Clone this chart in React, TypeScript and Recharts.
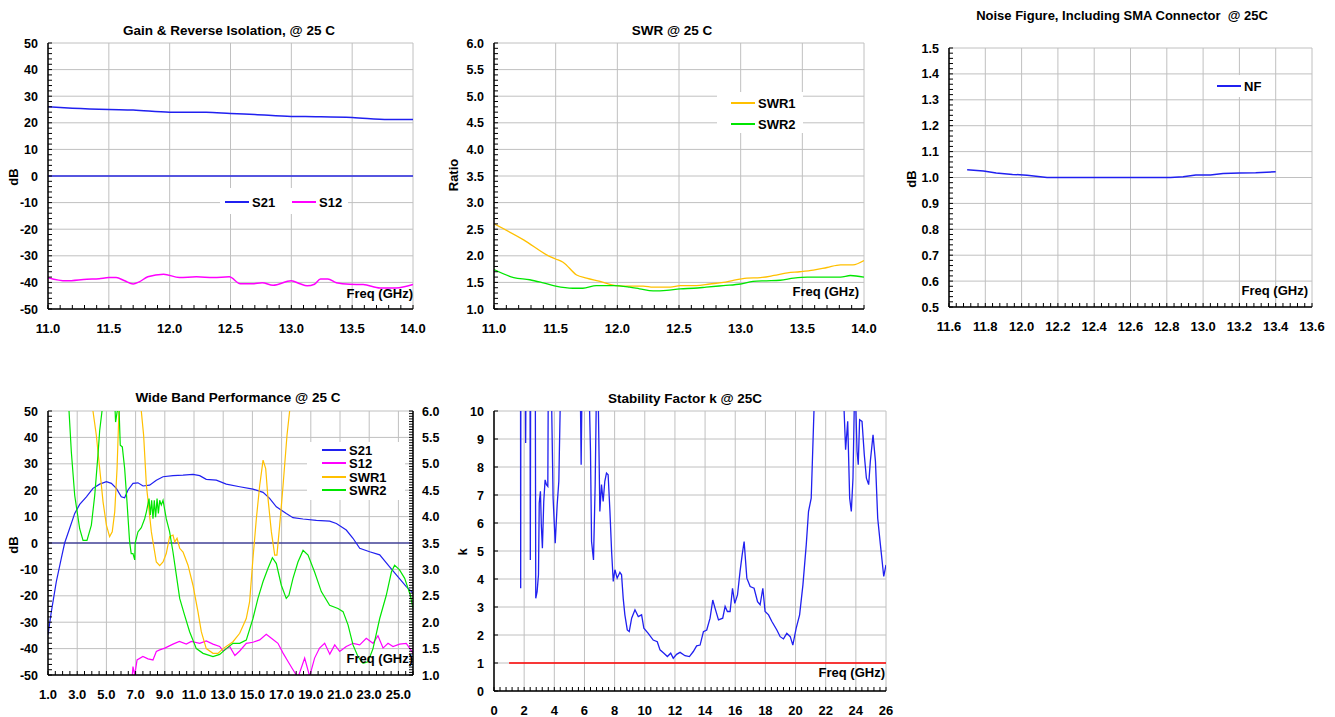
import React from 'react';
import { LineChart, Line, XAxis, YAxis, CartesianGrid, ReferenceLine } from 'recharts';

const FONT = 'Arial, "Liberation Sans", Helvetica, sans-serif';
type Pt = [number, number];

// ---- Gain & Reverse Isolation ----
const GAIN_X_LABELS = [11.0, 11.5, 12.0, 12.5, 13.0, 13.5, 14.0];
const GAIN_Y_LABELS = [-50, -40, -30, -20, -10, 0, 10, 20, 30, 40, 50];
const GAIN_S21: Pt[] = [
  [11.0, 26.0], [11.2, 25.5], [11.5, 25.0], [11.7, 24.8], [12.0, 24.0], [12.3, 24.0],
  [12.5, 23.5], [12.7, 23.1], [13.0, 22.4], [13.2, 22.3], [13.5, 22.0], [13.8, 21.2], [14.0, 21.2],
];
const GAIN_S12: Pt[] = [
  [11.0, -38.2], [11.15, -39.4], [11.32, -38.8], [11.42, -38.6], [11.5, -38.2], [11.56, -38.2],
  [11.63, -39.4], [11.7, -40.6], [11.75, -39.8], [11.82, -37.9], [11.95, -36.9], [12.08, -38.2],
  [12.22, -37.9], [12.36, -38.2], [12.49, -37.9], [12.58, -40.5], [12.68, -40.5], [12.76, -40.1],
  [12.85, -41.1], [13.0, -39.4], [13.07, -40.5], [13.13, -41.3], [13.19, -40.7], [13.24, -38.7],
  [13.3, -38.7], [13.37, -40.1], [13.48, -40.7], [13.59, -40.8], [13.73, -42.1], [13.86, -42.1],
  [14.0, -40.8],
];

// ---- SWR ----
const SWR_Y_LABELS = [1.0, 1.5, 2.0, 2.5, 3.0, 3.5, 4.0, 4.5, 5.0, 5.5, 6.0];
const SWR_1: Pt[] = [
  [11.0, 2.6], [11.24, 2.3], [11.45, 1.99], [11.5, 1.94], [11.56, 1.88], [11.67, 1.64],
  [11.75, 1.58], [11.86, 1.52], [11.99, 1.44], [12.1, 1.43], [12.21, 1.43], [12.29, 1.41],
  [12.43, 1.41], [12.51, 1.44], [12.64, 1.44], [12.75, 1.47], [12.86, 1.5], [12.94, 1.54],
  [13.05, 1.58], [13.16, 1.59], [13.27, 1.63], [13.38, 1.68], [13.48, 1.7], [13.59, 1.73],
  [13.7, 1.78], [13.81, 1.83], [13.91, 1.83], [14.0, 1.91],
];
const SWR_2: Pt[] = [
  [11.0, 1.74], [11.16, 1.59], [11.29, 1.55], [11.4, 1.49], [11.5, 1.43], [11.64, 1.39],
  [11.72, 1.39], [11.83, 1.44], [11.97, 1.44], [12.1, 1.41], [12.18, 1.38], [12.29, 1.34],
  [12.4, 1.35], [12.51, 1.38], [12.62, 1.39], [12.72, 1.41], [12.86, 1.44], [13.0, 1.47],
  [13.1, 1.52], [13.21, 1.53], [13.32, 1.54], [13.43, 1.58], [13.54, 1.6], [13.67, 1.6],
  [13.81, 1.6], [13.89, 1.63], [14.0, 1.6],
];

// ---- Noise figure ----
const NF_X_LABELS = [11.6, 11.8, 12.0, 12.2, 12.4, 12.6, 12.8, 13.0, 13.2, 13.4, 13.6];
const NF_Y_LABELS = [0.5, 0.6, 0.7, 0.8, 0.9, 1.0, 1.1, 1.2, 1.3, 1.4, 1.5];
const NF: Pt[] = [
  [11.7, 1.03], [11.79, 1.025], [11.86, 1.017], [11.95, 1.012], [12.03, 1.009], [12.14, 1.0],
  [12.3, 1.0], [12.5, 1.0], [12.7, 1.0], [12.82, 1.0], [12.89, 1.003], [12.96, 1.01],
  [13.04, 1.01], [13.11, 1.015], [13.2, 1.017], [13.29, 1.018], [13.4, 1.022],
];

// ---- Wide band ----
const WB_X_LABELS = [1, 3, 5, 7, 9, 11, 13, 15, 17, 19, 21, 23, 25];
const WB_DB_LABELS = GAIN_Y_LABELS;
const WB_R_LABELS = SWR_Y_LABELS;
const WB_S21: Pt[] = [
  [1.0, -34.8], [1.23, -26], [1.57, -14.6], [1.91, -5.8], [2.14, 0], [2.48, 5.5], [2.83, 11.2],
  [3.17, 14.6], [3.63, 17.5], [4.08, 20.7], [4.54, 22.3], [5.0, 23.2], [5.34, 22.6], [5.68, 20.7],
  [6.02, 17.5], [6.25, 17.1], [6.48, 20.1], [6.82, 22.6], [7.16, 22.8], [7.51, 21.6], [7.96, 21.9],
  [8.42, 23.8], [8.88, 25.1], [9.56, 25.5], [10.25, 25.7], [10.93, 26], [11.39, 25.5], [11.84, 24.1],
  [12.53, 23.8], [13.21, 22.3], [14.13, 21.3], [15.04, 20.4], [15.73, 19.2], [16.18, 16.9],
  [16.64, 13.7], [17.32, 11.2], [17.78, 9.6], [18.47, 9.1], [19.38, 8.6], [20.29, 8.3], [20.75, 7.4],
  [21.43, 4.9], [21.89, 1.8], [22.35, -2], [23.03, -3.3], [23.72, -4.5], [24.4, -9], [24.86, -12.1],
  [25.54, -16.5], [26.0, -19],
];
const WB_S12: Pt[] = [
  [6.75, -52], [6.82, -46.8], [6.94, -50], [7.1, -44.3], [7.5, -43], [7.85, -43.9], [8.19, -44.3],
  [8.42, -41.1], [8.65, -40.5], [9.0, -39.8], [9.56, -38.3], [10.0, -37.3], [10.47, -38.3],
  [10.82, -37.3], [11.39, -38], [11.84, -37.1], [12.3, -38.3], [12.76, -39.2], [13.0, -40.9],
  [13.44, -39.2], [13.8, -42.6], [14.13, -40.9], [14.58, -38], [15.04, -37.6], [15.5, -36.7],
  [15.95, -34.6], [16.3, -36.1], [16.75, -38], [17.1, -41.7], [17.44, -44.9], [17.78, -48],
  [18.12, -51], [18.58, -43.6], [18.92, -50.5], [19.26, -43.6], [19.6, -39.8], [19.95, -38],
  [20.3, -42.1], [20.64, -38.6], [20.98, -41.1], [21.43, -39.2], [21.89, -38], [22.35, -38.6],
  [22.8, -36.1], [23.26, -38], [23.6, -35.1], [23.95, -39.8], [24.29, -38], [24.63, -39.2],
  [25.08, -38.3], [25.54, -38], [26.0, -41.7],
];
const WB_SWR1: Pt[] = [
  [3.95, 6.6], [4.08, 6.0], [4.31, 5.54], [4.54, 4.91], [4.77, 4.28], [5.0, 3.84], [5.22, 3.62],
  [5.4, 3.71], [5.57, 4.09], [5.73, 4.91], [5.86, 6.0], [5.95, 6.6], [7.3, 6.6], [7.39, 6.0],
  [7.55, 5.54], [7.74, 4.59], [8.08, 3.71], [8.42, 3.14], [8.65, 3.07], [8.88, 3.14], [9.1, 3.3],
  [9.33, 3.62], [9.56, 3.65], [9.68, 3.52], [9.84, 3.59], [10.02, 3.4], [10.25, 3.33], [10.59, 3.08],
  [10.93, 2.7], [11.27, 2.2], [11.5, 1.82], [11.84, 1.5], [12.3, 1.41], [12.64, 1.41], [12.99, 1.5],
  [13.67, 1.63], [14.13, 1.79], [14.58, 2.07], [14.81, 2.39], [15.04, 3.21], [15.27, 3.96],
  [15.5, 4.59], [15.73, 5.07], [15.91, 4.91], [16.07, 4.34], [16.3, 3.71], [16.53, 3.27],
  [16.68, 3.27], [16.87, 3.84], [17.1, 4.59], [17.37, 5.54], [17.55, 6.0], [17.7, 6.6],
];
const WB_SWR2: Pt[] = [
  [2.35, 6.6], [2.44, 6.0], [2.6, 5.22], [2.83, 4.4], [3.17, 3.77], [3.4, 3.55], [3.67, 3.55],
  [3.97, 3.84], [4.2, 4.4], [4.42, 5.16], [4.54, 5.63], [4.7, 6.0], [4.8, 6.6], [5.55, 6.3],
  [5.63, 5.79], [5.73, 5.98], [5.86, 6.1], [5.95, 5.35], [6.09, 5.32], [6.25, 4.91], [6.41, 4.28],
  [6.59, 3.52], [6.7, 3.3], [6.82, 3.3], [6.94, 3.18], [6.97, 3.5], [7.16, 3.71], [7.39, 3.79],
  [7.62, 3.96], [7.74, 4.09], [7.92, 4.34], [8.01, 4.03], [8.1, 4.31], [8.19, 3.96], [8.28, 4.31],
  [8.37, 3.99], [8.47, 4.34], [8.56, 4.06], [8.65, 4.31], [8.76, 4.22], [8.88, 4.31], [9.1, 3.96],
  [9.33, 3.71], [9.56, 3.33], [9.79, 2.89], [10.02, 2.45], [10.36, 2.13], [10.7, 1.82],
  [11.16, 1.5], [11.62, 1.41], [12.3, 1.35], [12.76, 1.39], [13.21, 1.5], [13.67, 1.6],
  [14.13, 1.6], [14.58, 1.66], [15.04, 2.07], [15.38, 2.45], [15.73, 2.77], [16.07, 3.02],
  [16.37, 3.22], [16.64, 3.11], [16.98, 2.7], [17.32, 2.45], [17.5, 2.51], [17.78, 2.83],
  [18.12, 3.14], [18.47, 3.36], [18.81, 3.27], [19.26, 2.95], [19.72, 2.58], [20.29, 2.32],
  [20.86, 2.26], [21.21, 2.2], [21.55, 1.95], [21.89, 1.57], [22.23, 1.35], [22.58, 1.22],
  [22.92, 1.25], [23.26, 1.5], [23.72, 2.07], [24.17, 2.51], [24.52, 2.95], [24.74, 3.08],
  [25.08, 2.99], [25.43, 2.83], [25.66, 2.64], [25.82, 2.51], [26.0, 2.26],
];

// ---- Stability factor ----
const K_X_LABELS = [0, 2, 4, 6, 8, 10, 12, 14, 16, 18, 20, 22, 24, 26];
const K_Y_LABELS = [0, 1, 2, 3, 4, 5, 6, 7, 8, 9, 10];
const K_LIMIT: Pt[] = [[1, 1], [26, 1]];
const K: Pt[] = [
  [1.76, 11], [1.77, 3.67], [1.78, 11], [2.08, 11], [2.1, 8.86], [2.12, 11], [2.39, 11],
  [2.41, 4.68], [2.43, 11], [2.74, 11], [2.77, 3.31], [2.86, 3.55], [2.95, 4.15], [3.0, 6.71],
  [3.08, 7.13], [3.14, 5.9], [3.21, 5.1], [3.3, 6.77], [3.39, 7.54], [3.48, 7.37], [3.57, 7.31],
  [3.6, 11], [3.8, 11], [3.92, 6.89], [4.06, 5.28], [4.19, 6.65], [4.3, 7.49], [4.42, 11],
  [5.72, 11], [5.78, 8.08], [5.84, 11], [6.3, 11], [6.4, 8.56], [6.47, 5.34], [6.6, 4.68],
  [6.71, 7.37], [6.8, 11], [6.9, 11], [7.02, 6.41], [7.13, 7.37], [7.24, 6.77], [7.35, 7.49],
  [7.46, 7.78], [7.57, 7.72], [7.69, 6.41], [7.8, 4.98], [7.91, 3.91], [8.02, 4.33], [8.17, 4.03],
  [8.35, 4.24], [8.46, 4.15], [8.57, 3.31], [8.68, 2.72], [8.84, 2.18], [8.97, 2.12], [9.13, 2.6],
  [9.35, 2.9], [9.57, 2.66], [9.79, 2.72], [9.94, 2.24], [10.23, 2.06], [10.56, 1.82],
  [10.83, 1.76], [11.01, 1.47], [11.27, 1.35], [11.5, 1.23], [11.72, 1.35], [11.89, 1.17],
  [12.11, 1.31], [12.34, 1.38], [12.67, 1.26], [12.96, 1.23], [13.22, 1.41], [13.44, 1.61],
  [13.67, 1.64], [13.89, 2.12], [14.11, 2.18], [14.33, 2.6], [14.51, 3.25], [14.66, 2.96],
  [14.89, 2.54], [15.17, 2.6], [15.33, 3.02], [15.48, 2.84], [15.66, 2.84], [15.82, 3.67],
  [15.97, 3.13], [16.15, 3.43], [16.32, 4.27], [16.46, 4.86], [16.59, 5.34], [16.77, 4.03],
  [16.99, 3.73], [17.25, 3.67], [17.48, 3.19], [17.65, 3.08], [17.83, 3.67], [17.98, 2.84],
  [18.21, 2.72], [18.43, 2.48], [18.76, 2.18], [18.98, 1.94], [19.2, 1.86], [19.42, 2.06],
  [19.65, 1.94], [19.82, 1.64], [20.04, 2.24], [20.27, 2.72], [20.49, 3.79], [20.71, 5.22],
  [20.86, 6.41], [21.04, 6.89], [21.24, 10.3], [23.2, 10.3], [23.32, 8.62], [23.46, 9.63],
  [23.59, 6.89], [23.7, 6.41], [23.81, 7.6], [23.9, 10.3], [23.99, 10.3], [24.08, 8.56],
  [24.16, 8.08], [24.25, 9.69], [24.41, 9.63], [24.56, 8.44], [24.7, 7.6], [24.85, 7.37],
  [24.96, 8.2], [25.14, 9.15], [25.3, 8.2], [25.45, 6.17], [25.63, 5.22], [25.85, 4.09], [26.0, 4.5],
];

const pts = (a: Pt[]) => a.map(([f, v]) => ({ f, v }));
const steps = (a: number, b: number, s: number) => {
  const out: number[] = [];
  for (let i = 0; a + i * s <= b + 1e-9; i++) out.push(+(a + i * s).toFixed(4));
  return out;
};
const near = (v: number, list: number[]) => list.some((m) => Math.abs(m - v) < 1e-6);

const GRID = '#c0c0c0';
const AXIS = { stroke: '#000', strokeWidth: 1.5 };
const TL = { stroke: '#000', strokeWidth: 1 };

const xTick = (labels: number[], digits: number) => (p: any) =>
  near(p.payload.value, labels) ? (
    <text x={p.x} y={p.y} dy={24} textAnchor="middle" fontFamily={FONT} fontWeight="bold" fontSize={13} fill="#000">
      {p.payload.value.toFixed(digits)}
    </text>
  ) : (
    <g />
  );
const yTick = (labels: number[], digits: number, side: 'left' | 'right' = 'left') => (p: any) =>
  near(p.payload.value, labels) ? (
    <text
      x={side === 'left' ? p.x - 10 : p.x + 9}
      y={p.y}
      dy={4.5}
      textAnchor={side === 'left' ? 'end' : 'start'}
      fontFamily={FONT}
      fontWeight="bold"
      fontSize={12.5}
      fill="#000"
    >
      {p.payload.value.toFixed(digits)}
    </text>
  ) : (
    <g />
  );

const Txt = ({ x, y, children, size = 13.5, anchor = 'center', rotate = false }: any) => (
  <div
    style={{
      position: 'absolute',
      left: x,
      top: y,
      transform: `translate(${anchor === 'center' ? '-50%' : anchor === 'right' ? '-100%' : '0'}, -50%)${rotate ? ' rotate(-90deg)' : ''}`,
      fontFamily: FONT,
      fontWeight: 'bold',
      fontSize: size,
      whiteSpace: 'nowrap',
      lineHeight: 1,
      color: '#000',
    }}
  >
    {children}
  </div>
);

const Key = ({ x, y, color, label }: any) => (
  <div style={{ position: 'absolute', left: x, top: y - 8, height: 16, display: 'flex', alignItems: 'center' }}>
    <div style={{ width: 24, height: 1.5, background: color, marginRight: 3 }} />
    <span style={{ fontFamily: FONT, fontWeight: 'bold', fontSize: 13 }}>{label}</span>
  </div>
);

const WhiteBox = ({ l, t, w, h }: any) => (
  <div style={{ position: 'absolute', left: l, top: t, width: w, height: h, background: '#fff' }} />
);

// plot boxes in page pixels
const place = (l: number, t: number, r: number, b: number, rightAxis = 0) => ({
  style: { position: 'absolute' as const, left: l - 54, top: t - 45 },
  width: r - l + 54 + (rightAxis || 30),
  height: b - t + 45 + 36,
  margin: { top: 45, left: 6, right: rightAxis ? 0 : 30, bottom: 6 },
});

const common = { dot: false, isAnimationActive: false, dataKey: 'v' };

export default function App() {
  const g = place(48, 43, 413, 309);
  const s = place(494, 43, 864, 309);
  const n = place(949, 48, 1312, 307);
  const w = place(48, 411, 413, 675, 32);
  const k = place(494, 411, 886, 691);

  return (
    <div style={{ position: 'absolute', left: 0, top: 0, width: 1335, height: 717, overflow: 'hidden', background: '#fff' }}>
      {/* Gain */}
      <div style={g.style}>
        <LineChart width={g.width} height={g.height} margin={g.margin}>
          <CartesianGrid stroke={GRID} verticalValues={GAIN_X_LABELS} horizontalValues={GAIN_Y_LABELS} />
          <XAxis type="number" dataKey="f" domain={[11, 14]} ticks={steps(11, 14, 0.1)} interval={0}
            tick={xTick(GAIN_X_LABELS, 1)} tickSize={-4} tickMargin={4} axisLine={AXIS} tickLine={TL} height={30} allowDataOverflow />
          <YAxis type="number" domain={[-50, 50]} ticks={steps(-50, 50, 2)} interval={0}
            tick={yTick(GAIN_Y_LABELS, 0)} tickSize={-4} tickMargin={4} axisLine={AXIS} tickLine={TL} width={48} allowDataOverflow />
          <ReferenceLine y={0} stroke="#2828e0" strokeWidth={1.5} />
          <Line {...common} data={pts(GAIN_S21)} type="monotone" stroke="#2020f0" strokeWidth={1.5} />
          <Line {...common} data={pts(GAIN_S12)} type="monotone" stroke="#ff00ff" strokeWidth={1.5} />
        </LineChart>
      </div>
      <Txt x={229} y={31}>Gain &amp; Reverse Isolation, @ 25 C</Txt>
      <Txt x={13} y={177} size={13} rotate>dB</Txt>
      <Txt x={413} y={293} anchor="right" size={13}>Freq (GHz)</Txt>
      <WhiteBox l={220} t={188} w={128} h={26} />
      <Key x={225} y={202} color="#2020f0" label="S21" />
      <Key x={292} y={202} color="#ff00ff" label="S12" />

      {/* SWR */}
      <div style={s.style}>
        <LineChart width={s.width} height={s.height} margin={s.margin}>
          <CartesianGrid stroke={GRID} verticalValues={GAIN_X_LABELS} horizontalValues={SWR_Y_LABELS} />
          <XAxis type="number" dataKey="f" domain={[11, 14]} ticks={steps(11, 14, 0.1)} interval={0}
            tick={xTick(GAIN_X_LABELS, 1)} tickSize={-4} tickMargin={4} axisLine={AXIS} tickLine={TL} height={30} allowDataOverflow />
          <YAxis type="number" domain={[1, 6]} ticks={steps(1, 6, 0.1)} interval={0}
            tick={yTick(SWR_Y_LABELS, 1)} tickSize={-4} tickMargin={4} axisLine={AXIS} tickLine={TL} width={48} allowDataOverflow />
          <Line {...common} data={pts(SWR_1)} type="monotone" stroke="#ffc000" strokeWidth={1.3} />
          <Line {...common} data={pts(SWR_2)} type="monotone" stroke="#00e600" strokeWidth={1.3} />
        </LineChart>
      </div>
      <Txt x={672} y={31}>SWR @ 25 C</Txt>
      <Txt x={453} y={175} size={13} rotate>Ratio</Txt>
      <Txt x={859} y={291} anchor="right" size={13}>Freq (GHz)</Txt>
      <WhiteBox l={717} t={92} w={86} h={41} />
      <Key x={731} y={103} color="#ffc000" label="SWR1" />
      <Key x={731} y={124} color="#00e600" label="SWR2" />

      {/* Noise figure */}
      <div style={n.style}>
        <LineChart width={n.width} height={n.height} margin={n.margin}>
          <CartesianGrid stroke={GRID} verticalValues={NF_X_LABELS} horizontalValues={NF_Y_LABELS} />
          <XAxis type="number" dataKey="f" domain={[11.6, 13.6]} ticks={steps(11.6, 13.6, 0.04)} interval={0}
            tick={xTick(NF_X_LABELS, 1)} tickSize={-4} tickMargin={4} axisLine={AXIS} tickLine={TL} height={30} allowDataOverflow />
          <YAxis type="number" domain={[0.5, 1.5]} ticks={steps(0.5, 1.5, 0.02)} interval={0}
            tick={yTick(NF_Y_LABELS, 1)} tickSize={-4} tickMargin={4} axisLine={AXIS} tickLine={TL} width={48} allowDataOverflow />
          <Line {...common} data={pts(NF)} type="linear" stroke="#2020f0" strokeWidth={1.5} />
        </LineChart>
      </div>
      <Txt x={1122} y={15} size={13}>Noise Figure, Including SMA Connector&nbsp;&nbsp;@ 25C</Txt>
      <Txt x={911} y={179} size={13} rotate>dB</Txt>
      <Txt x={1308} y={290} anchor="right" size={13}>Freq (GHz)</Txt>
      <WhiteBox l={1212} t={75} w={52} h={22} />
      <Key x={1217} y={86} color="#2020f0" label="NF" />

      {/* Wide band */}
      <div style={w.style}>
        <LineChart width={w.width} height={w.height} margin={w.margin}>
          <CartesianGrid stroke={GRID} yAxisId="db" verticalValues={[...WB_X_LABELS, 26]} horizontalValues={WB_DB_LABELS} />
          <XAxis type="number" dataKey="f" domain={[1, 26]} ticks={steps(1, 26, 0.5)} interval={0}
            tick={xTick(WB_X_LABELS, 1)} tickSize={-4} tickMargin={4} axisLine={AXIS} tickLine={TL} height={30} allowDataOverflow />
          <YAxis yAxisId="db" type="number" domain={[-50, 50]} ticks={steps(-50, 50, 2)} interval={0}
            tick={yTick(WB_DB_LABELS, 0)} tickSize={-4} tickMargin={4} axisLine={AXIS} tickLine={TL} width={48} allowDataOverflow />
          <YAxis yAxisId="r" orientation="right" type="number" domain={[1, 6]} ticks={steps(1, 6, 0.05)} interval={0}
            tick={yTick(WB_R_LABELS, 1, 'right')} tickSize={-4} tickMargin={4} axisLine={AXIS} tickLine={TL} width={32} allowDataOverflow />
          <ReferenceLine yAxisId="db" y={0} stroke="#000080" strokeWidth={1.2} />
          <Line {...common} yAxisId="db" data={pts(WB_S21)} type="linear" stroke="#2020f0" strokeWidth={1.2} />
          <Line {...common} yAxisId="db" data={pts(WB_S12)} type="linear" stroke="#ff00ff" strokeWidth={1.2} />
          <Line {...common} yAxisId="r" data={pts(WB_SWR1)} type="linear" stroke="#ffc000" strokeWidth={1.2} />
          <Line {...common} yAxisId="r" data={pts(WB_SWR2)} type="linear" stroke="#00e600" strokeWidth={1.2} />
        </LineChart>
      </div>
      <Txt x={238} y={398}>Wide Band Performance @ 25 C</Txt>
      <Txt x={13} y={545} size={13} rotate>dB</Txt>
      <Txt x={413} y={658} anchor="right" size={13}>Freq (GHz)</Txt>
      <WhiteBox l={307} t={442} w={98} h={58} />
      <Key x={322} y={450} color="#2020f0" label="S21" />
      <Key x={322} y={463} color="#ff00ff" label="S12" />
      <Key x={322} y={477} color="#ffc000" label="SWR1" />
      <Key x={322} y={490} color="#00e600" label="SWR2" />

      {/* Stability */}
      <div style={k.style}>
        <LineChart width={k.width} height={k.height} margin={k.margin}>
          <CartesianGrid stroke={GRID} verticalValues={K_X_LABELS} horizontalValues={K_Y_LABELS} />
          <XAxis type="number" dataKey="f" domain={[0, 26]} ticks={steps(0, 26, 0.4)} interval={0}
            tick={xTick(K_X_LABELS, 0)} tickSize={-4} tickMargin={4} axisLine={AXIS} tickLine={TL} height={30} allowDataOverflow />
          <YAxis type="number" domain={[0, 10]} ticks={K_Y_LABELS} interval={0}
            tick={yTick(K_Y_LABELS, 0)} tickSize={-4} tickMargin={4} axisLine={AXIS} tickLine={TL} width={48} allowDataOverflow />
          <Line {...common} data={pts(K_LIMIT)} type="linear" stroke="#ff0000" strokeWidth={1.5} />
          <Line {...common} data={pts(K)} type="linear" stroke="#2020f0" strokeWidth={1.3} />
        </LineChart>
      </div>
      <Txt x={685} y={399}>Stability Factor k @ 25C</Txt>
      <Txt x={462} y={552} size={13} rotate>k</Txt>
      <Txt x={885} y={672} anchor="right" size={13}>Freq (GHz)</Txt>
    </div>
  );
}
